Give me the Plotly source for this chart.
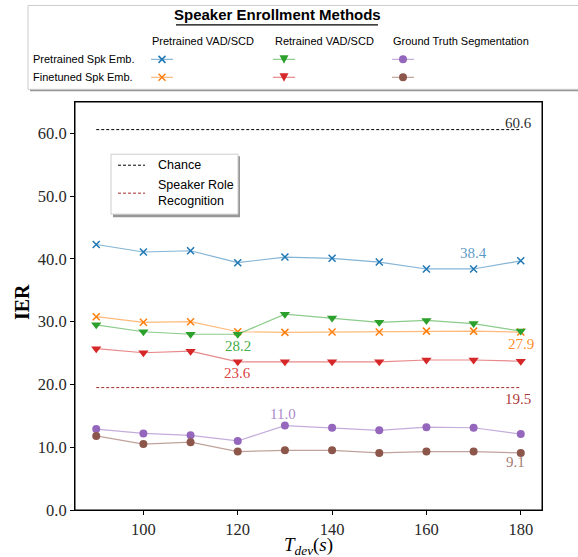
import plotly.graph_objects as go

# ---------------- data ----------------
t_dev = [90, 100, 110, 120, 130, 140, 150, 160, 170, 180]
pre_vad_pre_emb = [42.3, 41.1, 41.3, 39.4, 40.3, 40.1, 39.5, 38.4, 38.4, 39.7]
pre_vad_fin_emb = [30.8, 29.9, 30.0, 28.4, 28.3, 28.35, 28.35, 28.5, 28.5, 28.35]
re_vad_pre_emb = [29.5, 28.4, 28.0, 28.0, 31.2, 30.6, 29.9, 30.2, 29.7, 28.5]
re_vad_fin_emb = [25.7, 25.05, 25.3, 23.6, 23.6, 23.6, 23.6, 23.9, 23.9, 23.7]
gt_pre_emb = [12.9, 12.2, 11.9, 11.0, 13.45, 13.1, 12.7, 13.2, 13.1, 12.1]
gt_fin_emb = [11.8, 10.5, 10.8, 9.3, 9.5, 9.5, 9.1, 9.3, 9.3, 9.1]
chance = 60.6
srr = 19.5
x_ticks = [100, 120, 140, 160, 180]
y_ticks = [0, 10, 20, 30, 40, 50, 60]

# annotations: (text, x, y, color)
labels = [
    ("38.4", 170, 41.0, "rgba(31,119,180,0.75)"),
    ("28.2", 120, 26.1, "rgba(44,160,44,0.9)"),
    ("27.9", 180, 26.5, "rgba(255,127,14,0.9)"),
    ("23.6", 120, 21.8, "rgba(214,39,40,0.9)"),
    ("19.5", 179.5, 17.7, "rgba(165,42,42,0.95)"),
    ("11.0", 129.6, 15.3, "rgba(148,103,189,0.8)"),
    ("9.1", 178.8, 7.6, "rgba(140,86,75,0.8)"),
    ("60.6", 179.5, 61.6, "rgba(0,0,0,0.85)"),
]

BLUE, ORANGE, GREEN, RED, PURPLE, BROWN = "31,119,180", "255,127,14", "44,160,44", "214,39,40", "148,103,189", "140,86,75"

series = [
    (pre_vad_pre_emb, BLUE, "x-thin", 7),
    (pre_vad_fin_emb, ORANGE, "x-thin", 7),
    (re_vad_pre_emb, GREEN, "triangle-down", 9),
    (re_vad_fin_emb, RED, "triangle-down", 9),
    (gt_pre_emb, PURPLE, "circle", 8),
    (gt_fin_emb, BROWN, "circle", 8),
]

# plot area in pixels (for decorations)
W, H = 578, 557
L, R, T, B = 75, 542, 101.7, 510.3


def px(x):
    return (x - L) / (R - L)


def py(y):
    return (B - y) / (B - T)


fig = go.Figure()

for vals, col, sym, sz in series:
    mk = dict(symbol=sym, size=sz, color=f"rgb({col})")
    if sym == "x-thin":
        mk["line"] = dict(color=f"rgb({col})", width=1.5)
    else:
        mk["line"] = dict(width=0)
    fig.add_trace(go.Scatter(
        x=t_dev, y=vals, mode="lines+markers",
        line=dict(color=f"rgba({col},0.55)", width=1.2),
        marker=mk, showlegend=False))

fig.add_trace(go.Scatter(x=[t_dev[0], t_dev[-1]], y=[chance, chance], mode="lines",
                         line=dict(color="black", width=1, dash="3px,2px"), showlegend=False))
fig.add_trace(go.Scatter(x=[t_dev[0], t_dev[-1]], y=[srr, srr], mode="lines",
                         line=dict(color="rgb(165,42,42)", width=1, dash="3px,2px"), showlegend=False))

serif = "Liberation Serif"
sans = "Liberation Sans"

annotations = []
for txt, x, y, c in labels:
    annotations.append(dict(x=x, y=y, xref="x", yref="y", text=txt, showarrow=False,
                            xanchor="center", yanchor="middle",
                            font=dict(family=serif, size=15, color=c)))


def ptext(x, y, text, size, family, xanchor="left", angle=0, align="left"):
    annotations.append(dict(x=px(x), y=py(y), xref="paper", yref="paper", text=text, showarrow=False,
                            xanchor=xanchor, yanchor="middle", textangle=angle, align=align,
                            font=dict(family=family, size=size, color="black")))


shapes = []


def pline(x0, y0, x1, y1, color, width=1.2, dash=None, layer="above"):
    ln = dict(color=color, width=width)
    if dash:
        ln["dash"] = dash
    shapes.append(dict(type="line", xref="paper", yref="paper", x0=px(x0), x1=px(x1),
                       y0=py(y0), y1=py(y1), line=ln, layer=layer))


def marker_shape(cx, cy, col, sym):
    c = f"rgb({col})"
    if sym == "x-thin":
        d = 3.5
        pline(cx - d, cy - d, cx + d, cy + d, c, 1.5)
        pline(cx - d, cy + d, cx + d, cy - d, c, 1.5)
    elif sym == "triangle-down":
        path = "M {} {} L {} {} L {} {} Z".format(px(cx - 4.5), py(cy - 4), px(cx + 4.5), py(cy - 4),
                                                  px(cx), py(cy + 4.5))
        shapes.append(dict(type="path", xref="paper", yref="paper", path=path, fillcolor=c,
                           line=dict(width=0), layer="above"))
    else:
        r = 4
        shapes.append(dict(type="circle", xref="paper", yref="paper", x0=px(cx - r), x1=px(cx + r),
                           y0=py(cy + r), y1=py(cy - r), fillcolor=c, line=dict(width=0), layer="above"))


# ---------- top legend box ----------
shapes.append(dict(type="rect", xref="paper", yref="paper", x0=px(30), x1=px(590), y0=py(7), y1=py(91),
                   fillcolor="rgb(150,150,150)", line=dict(width=0), layer="below"))
shapes.append(dict(type="rect", xref="paper", yref="paper", x0=px(28), x1=px(588), y0=py(5), y1=py(89),
                   fillcolor="white", line=dict(color="rgb(205,205,205)", width=1), layer="below"))
ptext(277, 14, "<b>Speaker Enrollment Methods</b>", 15, sans, xanchor="center")
pline(176, 24.5, 378, 24.5, "black", 1.2)

col_x = [162, 284, 403]
col_txt = ["Pretrained VAD/SCD", "Retrained VAD/SCD", "Ground Truth Segmentation"]
col_txt_x = [150, 273, 391]
for cx, ct in zip(col_txt_x, col_txt):
    ptext(cx, 41, ct, 11, sans)
row_y = [59, 77]
row_txt = ["Pretrained Spk Emb.", "Finetuned Spk Emb."]
for ry, rt in zip(row_y, row_txt):
    ptext(31, ry, rt, 11, sans)

grid = [[(BLUE, "x-thin"), (GREEN, "triangle-down"), (PURPLE, "circle")],
        [(ORANGE, "x-thin"), (RED, "triangle-down"), (BROWN, "circle")]]
for ri, ry in enumerate(row_y):
    for ci, cx in enumerate(col_x):
        col, sym = grid[ri][ci]
        pline(cx - 11, ry, cx + 11, ry, f"rgba({col},0.55)", 1.2)
        marker_shape(cx, ry, col, sym)

# ---------- inner legend box ----------
shapes.append(dict(type="rect", xref="paper", yref="paper", x0=px(113), x1=px(240), y0=py(156), y1=py(217),
                   fillcolor="rgb(150,150,150)", line=dict(width=0), layer="above"))
shapes.append(dict(type="rect", xref="paper", yref="paper", x0=px(111), x1=px(238), y0=py(154), y1=py(214),
                   fillcolor="white", line=dict(color="rgb(205,205,205)", width=1), layer="above"))
pline(118, 165, 145, 165, "black", 1, "3px,2px")
pline(118, 193, 145, 193, "rgb(165,42,42)", 1, "3px,2px")
ptext(156, 165, "Chance", 12.5, sans)
ptext(156, 193, "Speaker Role<br>Recognition", 12.5, sans)

# plot frame
shapes.append(dict(type="rect", xref="paper", yref="paper", x0=0, x1=1, y0=0, y1=1,
                   line=dict(color="black", width=1), fillcolor="rgba(0,0,0,0)", layer="above"))

# axis titles
ptext(22, 302, "<b>IER</b>", 20, serif, xanchor="center", angle=-90)
ptext(308, 546, "<i>T</i><sub><i>dev</i></sub>(<i>s</i>)", 19, serif, xanchor="center")

fig.update_layout(
    width=W, height=H,
    margin=dict(l=L, r=W - R, t=T, b=H - B),
    paper_bgcolor="white", plot_bgcolor="white",
    xaxis=dict(range=[85.5, 184.5], tickvals=x_ticks, ticks="outside", ticklen=4, tickcolor="black",
               showline=True, mirror=True, linecolor="black", linewidth=1, showgrid=False, zeroline=False,
               tickfont=dict(family=serif, size=16.5, color="rgb(40,40,40)")),
    yaxis=dict(range=[0, 65], tickvals=y_ticks, tickformat=".1f", ticks="outside", ticklen=4,
               tickcolor="black", showline=True, mirror=True, linecolor="black", linewidth=1,
               showgrid=False, zeroline=False,
               tickfont=dict(family=serif, size=16.5, color="rgb(40,40,40)")),
    shapes=shapes, annotations=annotations,
)

fig.write_html("out.html", config={"displayModeBar": False},
               post_script="document.body.style.margin='0px';document.body.style.padding='0px';")
